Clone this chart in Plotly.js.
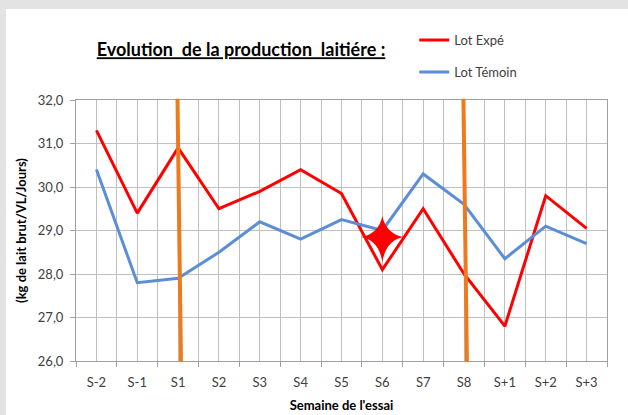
<!DOCTYPE html>
<html>
<head>
<meta charset="utf-8">
<script src="https://cdn.plot.ly/plotly-3.0.1.min.js"></script>
<style>
  html, body { margin: 0; padding: 0; background: #e3e3e3; width: 628px; height: 415px; overflow: hidden; }
  #chart { position: absolute; left: 6px; top: 9px; width: 622px; height: 406px; background: #ffffff; }
</style>
</head>
<body>
<div id="chart"></div>
<script>
// ---- data ----
const weeks = ['S-2', 'S-1', 'S1', 'S2', 'S3', 'S4', 'S5', 'S6', 'S7', 'S8', 'S+1', 'S+2', 'S+3'];
const lotExpe = [31.3, 29.4, 30.9, 29.5, 29.9, 30.4, 29.85, 28.1, 29.5, 28.0, 26.8, 29.8, 29.05];
const lotTemoin = [30.4, 27.8, 27.9, 28.5, 29.2, 28.8, 29.25, 29.0, 30.3, 29.6, 28.35, 29.1, 28.7];
const seriesNames = ['Lot Expé', 'Lot Témoin'];
const periodMarkers = ['S1', 'S8'];
const starWeek = ['S6'];
const starValue = [28.85];
const yTickValues = [26, 27, 28, 29, 30, 31, 32];

const idx = w => weeks.indexOf(w);
const xs = weeks.map((w, i) => i);

const FONT = 'Lato, "Open Sans", sans-serif';
const grid = '#c0c0c0';

const traces = [
  { x: xs, y: lotExpe, name: seriesNames[0], type: 'scatter', mode: 'lines',
    line: { color: '#ff0000', width: 3 }, legendgroup: 'a' },
  { x: xs, y: lotTemoin, name: seriesNames[1], type: 'scatter', mode: 'lines',
    line: { color: '#5b8ed6', width: 3 }, legendgroup: 'b' }
];

const shapes = periodMarkers.map(w => ({
  type: 'line', xref: 'x', yref: 'paper',
  x0: idx(w) - 0.015, x1: idx(w) + 0.07, y0: 1.005, y1: -0.003,
  line: { color: '#ee7a1e', width: 4 }, layer: 'above'
}));

// sparkle marker (4-point star) anchored on data point
starWeek.forEach((w, k) => {
  shapes.push({
    type: 'path', xref: 'x', yref: 'y',
    xsizemode: 'pixel', ysizemode: 'pixel',
    xanchor: idx(w), yanchor: starValue[k],
    path: 'M0,21 Q3.5,3.5 21,0 Q3.5,-3.5 0,-25 Q-3.5,-3.5 -21,0 Q-3.5,3.5 0,21 Z',
    fillcolor: '#ff0000', line: { width: 0 }, layer: 'above'
  });
});

const boundaries = weeks.map((w, i) => i - 0.5).concat([weeks.length - 0.5]);

const layout = {
  width: 622, height: 406,
  paper_bgcolor: '#ffffff', plot_bgcolor: '#ffffff',
  separators: ', ',
  margin: { l: 69.5, r: 21, t: 91, b: 53.5 },
  font: { family: FONT, color: '#404040', size: 13 },
  title: {
    text: '<b><u>Evolution&nbsp; de la production&nbsp; laitiére :</u></b>',
    font: { family: FONT, size: 18, color: '#000000' },
    x: 235 / 622, xanchor: 'center', xref: 'container',
    y: 1 - 41 / 406, yanchor: 'middle', yref: 'container'
  },
  xaxis: {
    range: [-0.5, weeks.length - 0.5],
    tickmode: 'array', tickvals: xs, ticktext: weeks,
    ticks: '', showgrid: true, gridcolor: grid, gridwidth: 1,
    showline: true, linecolor: '#a0a0a0', linewidth: 1, mirror: true,
    zeroline: false,
    ticklabelstandoff: 9,
    tickfont: { family: FONT, size: 13, color: '#404040' },
    minor: { tickmode: 'array', tickvals: boundaries, ticks: 'outside', ticklen: 5,
             tickcolor: '#a0a0a0', showgrid: true, gridcolor: grid, gridwidth: 1 },
    title: { text: '<b>Semaine de l\'essai</b>', font: { family: FONT, size: 13, color: '#000000' }, standoff: 12 }
  },
  yaxis: {
    range: [26, 32], tickmode: 'array', tickvals: yTickValues, tickformat: '.1f',
    ticks: 'outside', ticklen: 5, tickcolor: '#a0a0a0',
    showgrid: true, gridcolor: grid, gridwidth: 1,
    showline: true, linecolor: '#a0a0a0', linewidth: 1, mirror: true,
    zeroline: false,
    ticklabelstandoff: 4,
    tickfont: { family: FONT, size: 13, color: '#404040' },
    title: { text: '<b>(kg de lait brut/VL/Jours)</b>', font: { family: FONT, size: 13, color: '#000000' }, standoff: 8 }
  },
  showlegend: true,
  legend: {
    x: 0.637, xanchor: 'left', y: 1.287, yanchor: 'top',
    traceorder: 'grouped', tracegroupgap: 12,
    font: { family: FONT, size: 13, color: '#404040' },
    bgcolor: 'rgba(0,0,0,0)', itemwidth: 30
  },
  shapes: shapes
};

Plotly.newPlot('chart', traces, layout, { displayModeBar: false, staticPlot: true });
</script>
</body>
</html>
